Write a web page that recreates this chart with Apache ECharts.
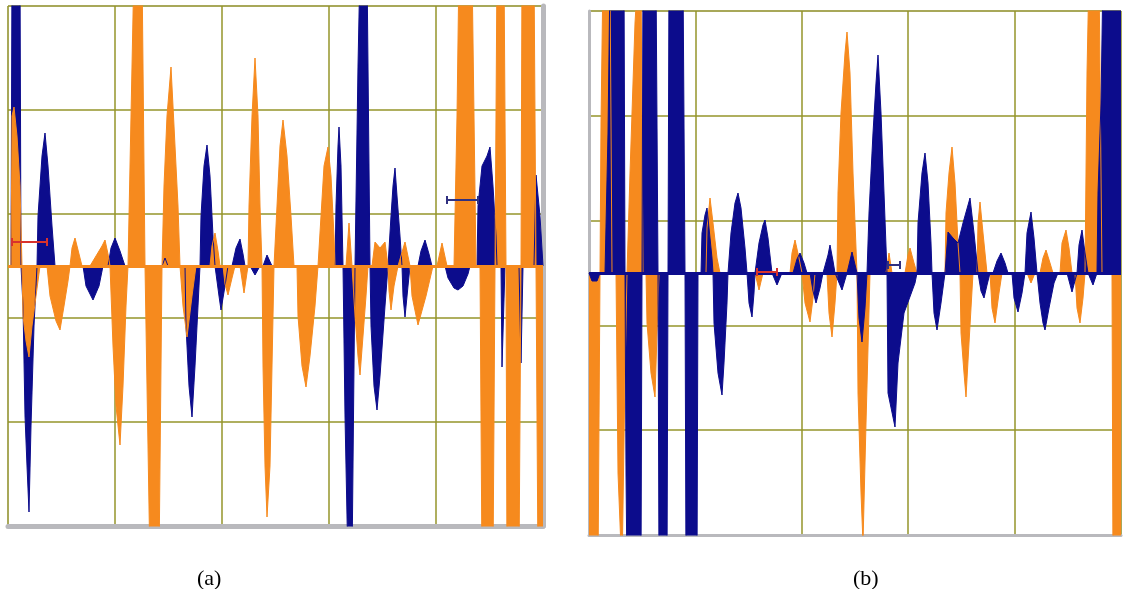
<!DOCTYPE html>
<html>
<head>
<meta charset="utf-8">
<script src="https://cdn.jsdelivr.net/npm/echarts@6/dist/echarts.min.js"></script>
<style>
  html, body { margin: 0; padding: 0; background: #fff; }
  #main { width: 1123px; height: 589px; }
</style>
</head>
<body>
<div id="main"></div>
<script>
// samples (x) and amplitude (y)
var aBlue = [
    [3, 0], [4, 300], [12, 300], [13, 0], [15, -40], [17, -150], [19, -200], [21, -246], [23, -160], [26, -60], [29, 0],
    [30, 50], [34, 110], [37, 133], [40, 100], [44, 40], [47, 0],
    [75, 0], [78, -20], [85, -34], [91, -20], [95, 0],
    [100, 0], [103, 18], [107, 28], [112, 15], [117, 0],
    [154, 0], [157, 8], [160, 0],
    [177, 0], [178, -60], [181, -120], [184, -151], [187, -100], [190, -40], [192, 0],
    [193, 50], [196, 100], [199, 121], [202, 90], [205, 30], [207, 0],
    [209, 0], [211, -30], [213, -44], [217, -20], [220, 0],
    [224, 0], [228, 18], [232, 27], [235, 12], [237, 0],
    [242, 0], [247, -9], [252, 0],
    [255, 0], [259, 11], [264, 0],
    [327, 0], [328, 60], [330, 120], [331, 139], [333, 100], [335, 0],
    [337, -150], [340, -300], [344, -300], [347, 0],
    [349, 0], [350, 200], [352, 300], [359, 300], [362, 0],
    [363, -60], [366, -120], [369, -144], [372, -110], [377, -40], [380, 0],
    [382, 0], [383, 50], [385, 80], [387, 98], [389, 70], [392, 30], [394, 0],
    [395, -30], [397, -51], [400, -20], [402, 0],
    [410, 0], [413, 15], [417, 26], [421, 12], [424, 0],
    [437, 0], [440, -12], [446, -22], [450, -24], [455, -20], [460, -8], [462, 0],
    [469, 0], [470, 60], [474, 100], [479, 110], [482, 119], [485, 80], [488, 30], [489, 0],
    [493, 0], [494, -101], [497, 0],
    [511, 0], [513, -97], [515, 0],
    [526, 0], [528, 91], [532, 50], [535, 0]
];
var aOrange = [
    [3, 0], [4, 150], [6, 159], [9, 130], [12, 80], [14, 0],
    [15, -50], [18, -75], [21, -91], [24, -60], [28, -30], [32, 0],
    [39, 0], [42, -30], [48, -55], [52, -64], [56, -40], [60, -15], [62, 0],
    [64, 18], [67, 28], [71, 12], [74, 0],
    [82, 0], [88, 10], [94, 20], [97, 26], [100, 12], [102, 0],
    [104, 0], [105, -80], [108, -140], [112, -179], [115, -120], [118, -40], [120, 0],
    [124, 200], [126, 300], [134, 300], [137, 0],
    [139, 0], [142, -300], [151, -300], [154, 0],
    [155, 0], [156, 80], [159, 150], [163, 199], [166, 140], [170, 60], [172, 0],
    [174, 0], [175, -40], [179, -71], [184, -30], [188, 0],
    [202, 0], [204, 20], [207, 33], [210, 15], [212, 0],
    [215, 0], [217, -18], [220, -29], [224, -12], [227, 0],
    [232, 0], [236, -27], [240, 0],
    [241, 60], [244, 150], [247, 208], [250, 150], [252, 60], [254, 0],
    [255, -100], [257, -200], [259, -251], [262, -200], [264, -100], [266, 0],
    [268, 0], [269, 60], [272, 120], [275, 146], [279, 110], [283, 50], [286, 0],
    [289, 0], [290, -50], [294, -100], [298, -121], [302, -90], [307, -40], [310, 0],
    [312, 0], [313, 50], [316, 100], [320, 119], [323, 90], [326, 30], [327, 0],
    [338, 0], [341, 43], [344, 0],
    [346, 0], [347, -50], [350, -90], [352, -109], [355, -70], [358, -30], [360, 0],
    [364, 0], [367, 24], [372, 18], [377, 24], [380, 0],
    [381, -25], [383, -44], [386, -20], [390, 0],
    [392, 0], [397, 24], [402, 0],
    [404, -30], [410, -59], [418, -30], [425, 0],
    [429, 0], [434, 23], [439, 0],
    [446, 0], [449, 150], [451, 300], [464, 300], [468, 0],
    [472, 0], [474, -300], [485, -300], [487, 0],
    [489, 300], [496, 300], [498, 0],
    [499, -300], [511, -300], [513, 0],
    [514, 300], [526, 300], [528, 0],
    [529, 0], [530, -300], [535, -300]
];
var bBlue = [
    [0, 0], [3, -8], [8, -8], [11, 0],
    [16, 0], [19, 140], [21, 300], [35, 300], [36, 0],
    [37, -200], [38, -300], [52, -300], [53, 0], [54, 300], [67, 300], [69, 0],
    [70, -300], [78, -300], [79, 0], [80, 300], [94, 300], [96, 0],
    [97, -300], [108, -300], [109, 0],
    [112, 0], [113, 40], [116, 58], [118, 65], [120, 45], [123, 15], [124, 0],
    [125, -50], [129, -100], [133, -122], [135, -90], [138, -30], [139, 0],
    [141, 0], [142, 40], [146, 70], [149, 80], [152, 65], [156, 25], [158, 0],
    [160, -30], [163, -44], [165, -20], [166, 0],
    [168, 0], [170, 30], [174, 48], [176, 53], [179, 35], [183, 0],
    [188, -12], [193, 0],
    [204, 0], [208, 14], [211, 20], [215, 10], [218, 0],
    [221, 0], [224, -18], [227, -30], [231, -15], [234, 0],
    [236, 0], [239, 18], [241, 28], [244, 12], [246, 0],
    [248, 0], [253, -17], [258, 0],
    [263, 21], [268, 0],
    [270, -45], [273, -69], [276, -35], [278, 0],
    [279, 0], [280, 60], [284, 140], [287, 190], [289, 218], [292, 160], [295, 80], [298, 0],
    [299, -120], [306, -154], [309, -90], [315, -40], [326, -10], [328, 0],
    [329, 50], [333, 100], [336, 120], [339, 90], [342, 30], [343, 0],
    [345, -40], [348, -57], [352, -30], [356, 0],
    [359, 41], [364, 35], [369, 30], [374, 50], [381, 75], [385, 40], [389, 0],
    [392, -18], [395, -25], [398, -12], [401, 0],
    [404, 0], [408, 12], [412, 20], [416, 10], [419, 0],
    [423, 0], [425, -25], [429, -39], [433, -20], [436, 0],
    [438, 40], [442, 61], [445, 35], [448, 0],
    [449, 0], [451, -30], [454, -50], [456, -57], [460, -35], [465, -10], [469, 0],
    [478, 0], [483, -19], [488, 0],
    [490, 28], [493, 43], [496, 20], [499, 0],
    [501, 0], [504, -12], [508, 0],
    [509, 80], [512, 170], [514, 300], [532, 300]
];
var bOrange = [
    [0, -300], [9, -300], [11, 0], [12, 150], [14, 300], [21, 300], [23, 0],
    [27, 0], [29, -200], [33, -300], [36, -100], [38, 0],
    [41, 100], [46, 250], [49, 300], [52, 300], [54, 0],
    [57, 0], [58, -50], [62, -100], [66, -124], [68, -60], [70, 0],
    [117, 0], [118, 45], [121, 75], [124, 50], [128, 15], [131, 0],
    [166, 0], [170, -17], [174, 0],
    [201, 0], [203, 20], [206, 33], [210, 15], [213, 0],
    [214, 0], [216, -30], [221, -49], [224, -25], [226, 0],
    [238, 0], [240, -40], [243, -64], [246, -30], [248, 0],
    [249, 80], [252, 160], [256, 220], [258, 241], [261, 200], [264, 100], [268, 0],
    [269, -120], [272, -220], [274, -270], [277, -150], [281, 0],
    [297, 0], [300, 20], [303, 0],
    [316, 0], [319, 18], [321, 25], [325, 10], [328, 0],
    [356, 0], [357, 60], [360, 100], [363, 126], [366, 90], [369, 30], [371, 0],
    [372, -60], [375, -100], [377, -124], [380, -70], [384, 0],
    [388, 0], [389, 50], [391, 71], [394, 40], [398, 0],
    [401, 0], [403, -35], [406, -50], [410, -20], [413, 0],
    [438, 0], [442, -10], [446, 0],
    [451, 0], [454, 15], [457, 23], [461, 10], [464, 0],
    [471, 0], [473, 30], [477, 43], [480, 25], [483, 0],
    [486, 0], [488, -35], [491, -50], [494, -25], [496, 0],
    [498, 200], [500, 300], [510, 300], [513, 0],
    [523, 0], [524, -300], [532, -300]
];
// cursor markers
var aRedBar = [[4, 24], [39, 24]];
var aNavyBar = [[439, 66], [470, 66]];
var bRedBar = [[168, 1], [188, 1]];
var bNavyBar = [[299, 8], [311, 8]];
var captions = ["(a)", "(b)"];

var BLUE = "#0c0c8c";
var ORANGE = "#f68a1e";
var GRIDC = "#94942a";
var BORDER = "#b9b9bd";

var myChart = echarts.init(document.getElementById("main"), null, { renderer: "canvas" });

function wave(data, color, xi, yi, baseColor) {
    var s = {
        type: "line",
        xAxisIndex: xi,
        yAxisIndex: yi,
        data: data,
        symbol: "none",
        animation: false,
        lineStyle: { color: color, width: 1 },
        itemStyle: { color: color },
        areaStyle: { color: color, opacity: 1 },
    };
    if (baseColor) {
        // zero line drawn above the fills
        s.markLine = {
            silent: true,
            symbol: "none",
            animation: false,
            label: { show: false },
            lineStyle: { color: baseColor, width: 3, type: "solid" },
            data: [{ yAxis: 0 }],
        };
    }
    return s;
}
function bar(data, color, xi, yi) {
    return {
        type: "line",
        xAxisIndex: xi,
        yAxisIndex: yi,
        data: data,
        symbol: "rect",
        symbolSize: [2, 8],
        animation: false,
        z: 5,
        lineStyle: { color: color, width: 2 },
        itemStyle: { color: color },
    };
}
function gridAxis(gi, pos, w) {
    return {
        type: "value",
        gridIndex: gi,
        position: pos,
        min: 10,
        max: 15,
        interval: 1,
        axisLine: { show: w > 0, onZero: false, lineStyle: { color: BORDER, width: w } },
        axisTick: { show: false },
        axisLabel: { show: false },
        splitLine: { show: true, lineStyle: { color: GRIDC, width: 1.5 } },
    };
}
function baseAxis(gi, max) {
    return {
        type: "value",
        gridIndex: gi,
        min: 0,
        max: max,
        axisLine: { show: false },
        axisTick: { show: false },
        axisLabel: { show: false },
        splitLine: { show: false },
    };
}
function ampAxis(gi, lim) {
    return {
        type: "value",
        gridIndex: gi,
        min: -lim,
        max: lim,
        axisLine: { show: false },
        axisTick: { show: false },
        axisLabel: { show: false },
        splitLine: { show: false },
    };
}

var capStyle = { fontFamily: "Liberation Serif", fontSize: 22, fontWeight: "normal", color: "#000" };

var option = {
    backgroundColor: "#ffffff",
    title: [
        { text: captions[0], left: 192, top: 563, textStyle: capStyle },
        { text: captions[1], left: 848, top: 563, textStyle: capStyle },
    ],
    grid: [
        { left: 8, top: 6, width: 535, height: 520, show: true, backgroundColor: "#fff", borderColor: "#c8c8d0", borderWidth: 1 },
        { left: 589, top: 11, width: 532, height: 524, show: true, backgroundColor: "#fff", borderColor: "#c8c8d0", borderWidth: 1 },
    ],
    xAxis: [
        baseAxis(0, 535),
        gridAxis(0, "bottom", 5),
        baseAxis(1, 532),
        gridAxis(1, "bottom", 3),
    ],
    yAxis: [
        ampAxis(0, 260),
        gridAxis(0, "right", 5),
        ampAxis(1, 262),
        gridAxis(1, "left", 3),
    ],
    series: [
        wave(aBlue, BLUE, 0, 0),
        wave(aOrange, ORANGE, 0, 0, ORANGE),
        wave(bOrange, ORANGE, 2, 2),
        wave(bBlue, BLUE, 2, 2, BLUE),
        bar(aRedBar, "#d8322c", 0, 0),
        bar(aNavyBar, "#303080", 0, 0),
        bar(bRedBar, "#d8322c", 2, 2),
        bar(bNavyBar, "#303080", 2, 2),
    ],
};
option && myChart.setOption(option);
</script>
</body>
</html>
